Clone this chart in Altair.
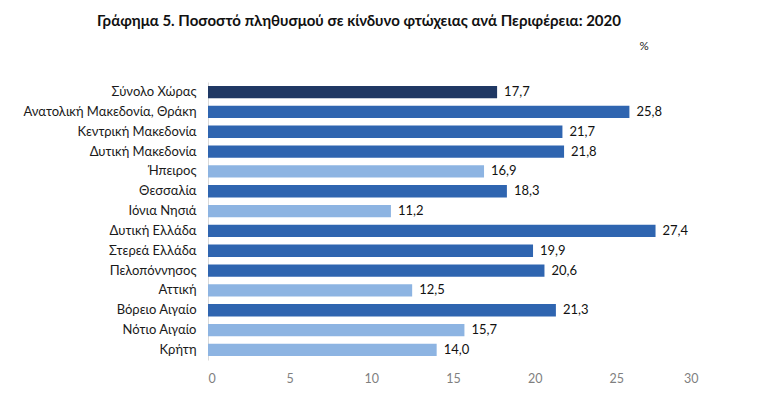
import altair as alt
import pandas as pd

regions = ["Σύνολο Χώρας", "Ανατολική Μακεδονία, Θράκη", "Κεντρική Μακεδονία",
           "Δυτική Μακεδονία", "Ήπειρος", "Θεσσαλία", "Ιόνια Νησιά", "Δυτική Ελλάδα",
           "Στερεά Ελλάδα", "Πελοπόννησος", "Αττική", "Βόρειο Αιγαίο", "Νότιο Αιγαίο", "Κρήτη"]
values = [17.7, 25.8, 21.7, 21.8, 16.9, 18.3, 11.2, 27.4, 19.9, 20.6, 12.5, 21.3, 15.7, 14.0]
groups = ["total", "high", "high", "high", "low", "high", "low", "high", "high", "high",
          "low", "high", "low", "low"]

df = pd.DataFrame({"region": regions, "value": values, "group": groups})

FONT = "Lato"

color = alt.Color("group:N", legend=None,
                  scale=alt.Scale(domain=["total", "high", "low"],
                                  range=["#1F3864", "#2F65B0", "#8DB4E2"]))

y = alt.Y("region:N", sort=regions, title=None,
          scale=alt.Scale(paddingInner=0.38, paddingOuter=0.2),
          axis=alt.Axis(ticks=False, domain=True, domainColor="#D9D9D9", labelFont=FONT,
                        labelFontSize=13, labelColor="#1a1a1a", labelPadding=12, labelLimit=300))
x = alt.X("value:Q", title=None,
          scale=alt.Scale(domain=[0, 30], nice=False),
          axis=alt.Axis(values=[0, 5, 10, 15, 20, 25, 30], grid=False, domain=False, ticks=False,
                        labelFont=FONT, labelFontSize=12.5, labelColor="#7F7F7F", labelPadding=12))

bars = alt.Chart(df).mark_bar().encode(x=x, y=y, color=color)

labels = alt.Chart(df).transform_calculate(
    lbl="replace(format(datum.value, '.1f'), '.', ',')"
).mark_text(align="left", baseline="middle", dx=7, font=FONT, fontSize=13, color="#111111").encode(
    x="value:Q", y=alt.Y("region:N", sort=regions), text="lbl:N")

pct = alt.Chart(pd.DataFrame({"t": ["%"]})).mark_text(
    font=FONT, fontSize=11.5, color="#1a1a1a", align="center", baseline="middle"
).encode(x=alt.value(436), y=alt.value(-35), text="t:N")

chart = alt.layer(bars, labels, pct).properties(
    width=490, height=278,
    title=alt.TitleParams(
        "Γράφημα 5. Ποσοστό πληθυσμού σε κίνδυνο φτώχειας ανά Περιφέρεια: 2020",
        anchor="start", frame="group", dx=-111, offset=12,
        font=FONT, fontSize=15, fontWeight="bold", color="#111111"),
    autosize=alt.AutoSizeParams(type="none"),
    padding={"left": 200, "top": 74, "right": 40, "bottom": 30},
).configure_view(stroke=None)

chart.save("out.html", embed_options={"renderer": "svg", "actions": False})
